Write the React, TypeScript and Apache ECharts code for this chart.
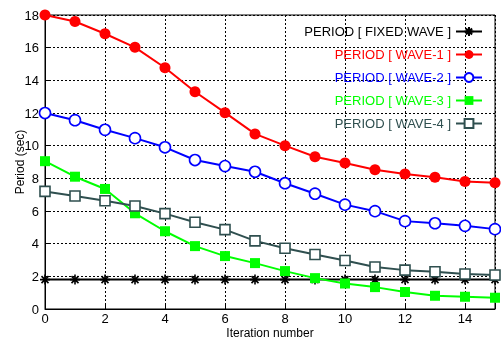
import React, { useEffect, useRef } from "react";
import * as echarts from "echarts";

const iterations = [0, 1, 2, 3, 4, 5, 6, 7, 8, 9, 10, 11, 12, 13, 14, 15];
const fixedWave = [1.8, 1.8, 1.8, 1.8, 1.8, 1.8, 1.8, 1.8, 1.8, 1.8, 1.8, 1.8, 1.8, 1.8, 1.8, 1.8];
const wave1 = [18.0, 17.6, 16.85, 16.02, 14.77, 13.3, 12.02, 10.72, 10.0, 9.32, 8.94, 8.53, 8.26, 8.07, 7.8, 7.73];
const wave2 = [12.0, 11.56, 10.97, 10.46, 9.9, 9.12, 8.75, 8.4, 7.7, 7.06, 6.39, 5.99, 5.38, 5.25, 5.09, 4.89];
const wave3 = [9.05, 8.1, 7.35, 5.86, 4.76, 3.85, 3.24, 2.81, 2.32, 1.89, 1.56, 1.34, 1.04, 0.81, 0.75, 0.69];
const wave4 = [7.2, 6.92, 6.63, 6.31, 5.84, 5.31, 4.86, 4.17, 3.72, 3.34, 2.97, 2.57, 2.38, 2.28, 2.14, 2.08];
const seriesNames = [
  "PERIOD [ FIXED WAVE ]",
  "PERIOD [ WAVE-1 ]",
  "PERIOD [ WAVE-2 ]",
  "PERIOD [ WAVE-3 ]",
  "PERIOD [ WAVE-4 ]",
];
const colors = ["#000000", "#ff0000", "#0000ff", "#00ff00", "#2f4f4f"];

const asterisk =
  "path://M5,0L5,10M0,5L10,5M1.5,1.5L8.5,8.5M1.5,8.5L8.5,1.5";

export default function App() {
  const ref = useRef<HTMLDivElement>(null);
  useEffect(() => {
    if (!ref.current) return;
    const chart = echarts.init(ref.current, null, { renderer: "svg" });
    const font = "'Liberation Sans', Arial, Helvetica, sans-serif";
    const mk = (vals: number[]) => iterations.map((x, i) => [x, vals[i]]);
    const allData = [fixedWave, wave1, wave2, wave3, wave4];
    const symbols = [asterisk, "circle", "circle", "rect", "rect"];
    const symbolSizes = [10, 11, 11, 10, 10];
    const fills = ["#000000", "#ff0000", "#ffffff", "#00ff00", "#ffffff"];
    const series = seriesNames.map((name, i) => ({
      name,
      type: "line",
      data: mk(allData[i]),
      symbol: symbols[i],
      symbolSize: symbolSizes[i],
      showAllSymbol: true,
      z: i === 0 ? 2 : 3,
      lineStyle: { color: colors[i], width: 2 },
      itemStyle: {
        color: fills[i],
        borderColor: colors[i],
        borderWidth: i === 0 ? 1.6 : i === 1 || i === 3 ? 0 : 1.6,
      },
    }));
    chart.setOption({
      animation: false,
      textStyle: { fontFamily: font },
      grid: {
        left: 45,
        right: 6,
        top: 15,
        bottom: 34,
        show: true,
        borderColor: "#000",
        borderWidth: 1,
        containLabel: false,
        outerBoundsMode: "none",
      },
      legend: {
        orient: "vertical",
        right: 13,
        top: 20,
        align: "right",
        itemWidth: 26,
        itemHeight: 11,
        itemGap: 10,
        textStyle: { fontSize: 13, fontFamily: font },
        data: seriesNames.map((n, i) => ({
          name: n,
          textStyle: { color: colors[i] },
        })),
      },
      xAxis: {
        type: "value",
        min: 0,
        max: 15,
        interval: 2,
        name: "Iteration number",
        nameLocation: "middle",
        nameGap: 18,
        nameMoveOverlap: false,
        nameTextStyle: { color: "#000", fontSize: 12, lineHeight: 12, fontFamily: font },
        axisLine: { show: true, lineStyle: { color: "#000", width: 1 } },
        axisTick: { show: true, inside: true, length: 4, lineStyle: { color: "#000" } },
        axisLabel: {
          color: "#000",
          fontSize: 13,
          lineHeight: 13,
          margin: 3,
          formatter: (v: number) => (v === 15 ? "" : String(v)),
        },
        splitLine: { show: true, lineStyle: { color: "#000", type: [2, 2], width: 1 } },
      },
      yAxis: {
        type: "value",
        min: 0,
        max: 18,
        interval: 2,
        name: "Period (sec)",
        nameLocation: "middle",
        nameGap: 19,
        nameMoveOverlap: false,
        nameTextStyle: { color: "#000", fontSize: 12, lineHeight: 12, fontFamily: font },
        axisLine: { show: true, lineStyle: { color: "#000", width: 1 } },
        axisTick: { show: true, inside: true, length: 4, lineStyle: { color: "#000" } },
        axisLabel: { color: "#000", fontSize: 13, margin: 6 },
        splitLine: { show: true, lineStyle: { color: "#000", type: [2, 2], width: 1 } },
      },
      series,
    });
    return () => chart.dispose();
  }, []);
  return <div ref={ref} style={{ width: 501, height: 343, position: "fixed", left: 0, top: 0 }} />;
}
